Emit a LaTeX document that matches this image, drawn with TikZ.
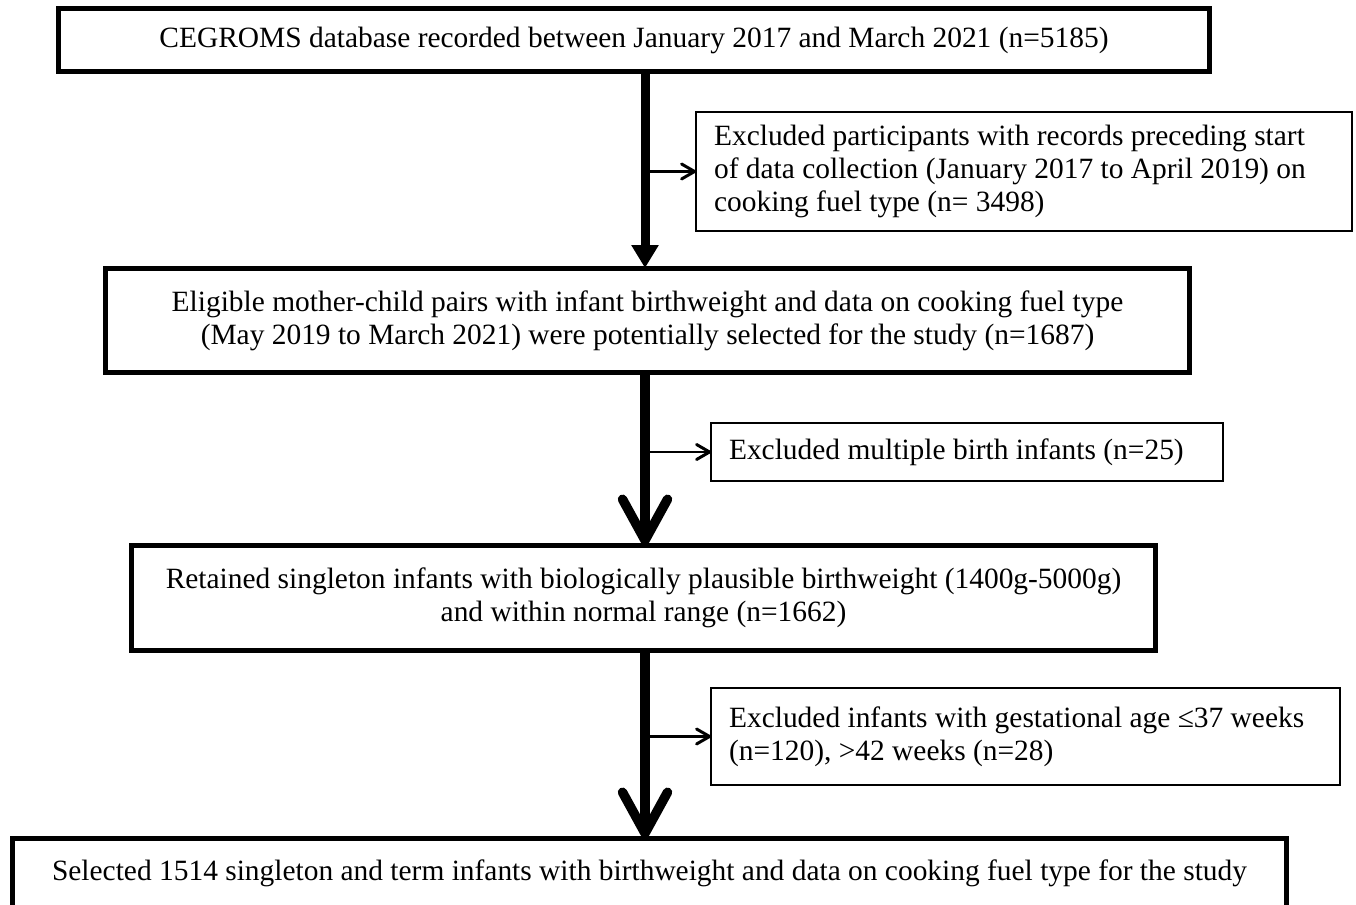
\documentclass[tikz,border=0pt]{standalone}
\usepackage{fontspec}
\setmainfont{Liberation Serif}
\usetikzlibrary{arrows.meta}
\tikzset{
	mainBox/.style={draw, line width=0.1cm, align=center, inner sep=0pt, outer sep=0pt, font=\fontsize{16.75}{18.8}\selectfont},
	exclBox/.style={draw, line width=0.04cm, align=flush left, inner xsep=0.36cm, inner ysep=0pt, outer sep=0pt, font=\fontsize{16.75}{18.8}\selectfont},
	spineArrow/.style={line width=0.18cm, line cap=butt, -{Triangle[width=0.52cm, length=0.46cm]}},
	spineBarb/.style={line width=0.19cm, line cap=butt, -{Straight Barb[width=0.9cm, length=0.82cm, round]}},
	sideArrow/.style={line width=0.06cm, -{Straight Barb[width=0.3cm, length=0.26cm, round]}}
}

\begin{document}
\begin{tikzpicture}[x=0.02cm, y=-0.02cm, line cap=round]

	\useasboundingbox (0,0) rectangle (1356,905);
	\coordinate (spine) at (645,0);

	\node[mainBox, minimum width=23.04cm, minimum height=1.28cm] (cegroms) at (634,40) {CEGROMS database recorded between January 2017 and March 2021 (n=5185)};
	\node[exclBox, text width=12.4cm, minimum height=2.38cm] (exRecords) at (1024,171.5) {Excluded participants with records preceding start\\of data collection (January 2017 to April 2019) on\\cooking fuel type (n= 3498)};
	\node[mainBox, minimum width=21.7cm, minimum height=2.1cm] (eligible) at (647.5,320.5) {Eligible mother-child pairs with infant birthweight and data on cooking fuel type\\(May 2019 to March 2021) were potentially selected for the study (n=1687)};
	\node[exclBox, text width=9.52cm, minimum height=1.16cm] (exMultiple) at (967,452) {Excluded multiple birth infants (n=25)};
	\node[mainBox, minimum width=20.5cm, minimum height=2.12cm] (retained) at (643.5,598) {Retained singleton infants with biologically plausible birthweight (1400g-5000g)\\and within normal range (n=1662)};
	\node[exclBox, text width=11.86cm, minimum height=1.94cm] (exGestation) at (1025.5,736.5) {Excluded infants with gestational age ≤37 weeks\\(n=120), >42 weeks (n=28)};
	\node[mainBox, minimum width=25.5cm, minimum height=1.4cm] (selected) at (649.5,873) {Selected 1514 singleton and term infants with birthweight and data on cooking fuel type for the study};

	\draw[spineArrow] (cegroms.south -| spine) -- (eligible.north -| spine);
	\draw[spineBarb] (eligible.south -| spine) -- (retained.north -| spine);
	\draw[spineBarb] (retained.south -| spine) -- (selected.north -| spine);

	\draw[sideArrow] (exRecords.west -| spine) -- (exRecords.west);
	\draw[sideArrow] (exMultiple.west -| spine) -- (exMultiple.west);
	\draw[sideArrow] (exGestation.west -| spine) -- (exGestation.west);

\end{tikzpicture}
\end{document}
